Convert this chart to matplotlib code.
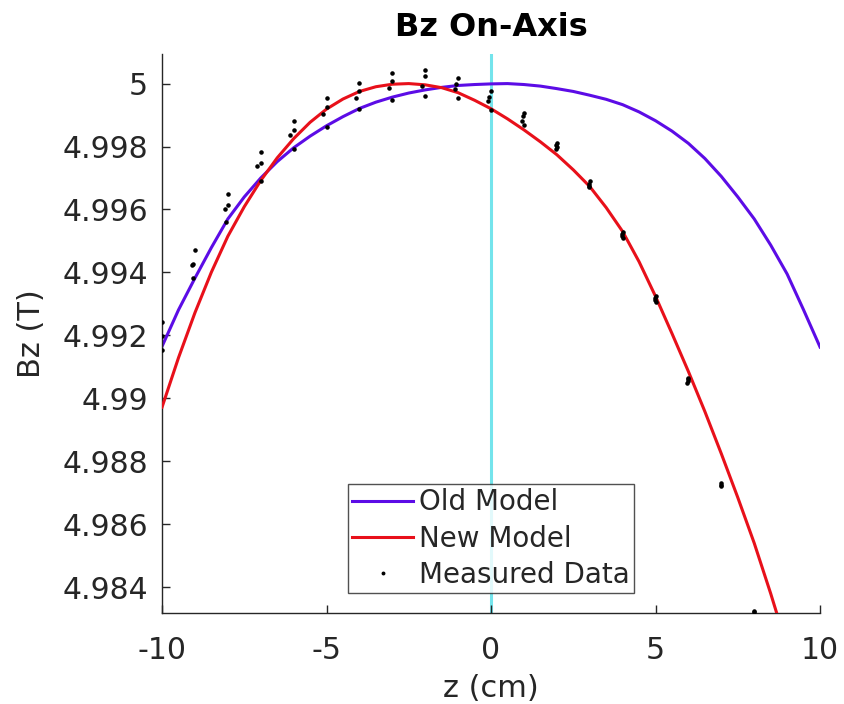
import numpy as np
import matplotlib.pyplot as plt

z_model = [-10, -9.5, -9, -8.5, -8, -7.5, -7, -6.5, -6, -5.5, -5, -4.5, -4, -3.5, -3,
           -2.5, -2, -1.5, -1, -0.5, 0, 0.5, 1, 1.5, 2, 2.5, 3, 3.5, 4, 4.5, 5,
           5.5, 6, 6.5, 7, 7.5, 8, 8.5, 9, 9.5, 10]
bz_old = [4.99165, 4.99281, 4.99382, 4.99479, 4.99570, 4.99640, 4.99700, 4.99752,
          4.99796, 4.99833, 4.99866, 4.99895, 4.99921, 4.99941, 4.99957, 4.99970,
          4.99980, 4.99988, 4.99994, 4.99997, 4.99999, 5.00000, 4.99997, 4.99992,
          4.99984, 4.99975, 4.99963, 4.99950, 4.99933, 4.99910, 4.99882, 4.99849,
          4.99810, 4.99762, 4.99705, 4.99640, 4.99570, 4.99487, 4.99395, 4.99281,
          4.99163]
bz_new = [4.98972, 4.99129, 4.99272, 4.99401, 4.99515, 4.99609, 4.99692, 4.99764,
          4.99825, 4.99877, 4.99919, 4.99951, 4.99975, 4.99990, 4.99998, 5.00000,
          4.99996, 4.99987, 4.99971, 4.99947, 4.99920, 4.99888, 4.99853, 4.99815,
          4.99774, 4.99726, 4.99673, 4.99606, 4.99530, 4.99434, 4.99324, 4.99206,
          4.99085, 4.98958, 4.98824, 4.98685, 4.98540, 4.98380, 4.98210, 4.98030,
          4.97850]

# measured points (several passes at each z position)
z_meas = [-10.0, -10.0, -10.0,
          -9.0, -9.05, -9.1, -9.05,
          -8.0, -8.0, -8.1, -8.05,
          -7.0, -7.0, -7.1, -7.0,
          -6.0, -6.0, -6.1, -6.0,
          -5.0, -5.0, -5.1, -5.0,
          -4.0, -4.0, -4.1, -4.0,
          -3.0, -3.0, -3.1, -3.0,
          -2.0, -2.0, -2.1, -2.0,
          -1.0, -1.05, -1.1, -1.0,
          0.0, -0.05, -0.1, 0.0,
          1.0, 0.98, 0.93, 1.0,
          2.0, 1.97, 1.99, 1.96,
          3.0, 2.98, 2.97, 2.99,
          4.0, 3.99, 3.98, 4.0,
          5.0, 4.99, 4.98, 5.0,
          6.0, 5.99, 5.98, 5.97,
          7.0, 6.99, 6.98,
          8.0, 8.0, 8.0]
bz_meas = [4.99243, 4.99199, 4.99155,
           4.99470, 4.99427, 4.99424, 4.99382,
           4.99649, 4.99615, 4.99603, 4.99560,
           4.99782, 4.99747, 4.99737, 4.99691,
           4.99882, 4.99851, 4.99837, 4.99793,
           4.99954, 4.99925, 4.99903, 4.99862,
           5.00003, 4.99978, 4.99955, 4.99919,
           5.00035, 5.00009, 4.99987, 4.99948,
           5.00043, 5.00024, 4.99993, 4.99961,
           5.00018, 4.99998, 4.99982, 4.99954,
           4.99975, 4.99957, 4.99945, 4.99917,
           4.99908, 4.99897, 4.99882, 4.99867,
           4.99812, 4.99805, 4.99798, 4.99792,
           4.99689, 4.99682, 4.99676, 4.99670,
           4.99530, 4.99523, 4.99516, 4.99509,
           4.99324, 4.99318, 4.99311, 4.99305,
           4.99065, 4.99060, 4.99054, 4.99049,
           4.98731, 4.98726, 4.98721,
           4.98325, 4.98320, 4.98308]

x_ticks = [-10, -5, 0, 5, 10]
y_ticks = [4.984, 4.986, 4.988, 4.99, 4.992, 4.994, 4.996, 4.998, 5]
y_tick_labels = ['4.984', '4.986', '4.988', '4.99', '4.992', '4.994', '4.996', '4.998', '5']

TXT = '#262626'
plt.rcParams['font.family'] = ['DejaVu Sans']

fig = plt.figure(figsize=(8.44, 7.04), dpi=100)
ax = fig.add_axes([0.192, 0.1288, 0.7796, 0.7945])

ax.axvline(0, color='#74e4ec', lw=2.2, zorder=1)
l_old, = ax.plot(z_model, bz_old, color='#5c0ce6', lw=2.2, label='Old Model', zorder=2)
l_new, = ax.plot(z_model, bz_new, color='#e8101a', lw=2.2, label='New Model', zorder=3)
l_meas, = ax.plot(z_meas, bz_meas, '.', color='black', ms=4.5, label='Measured Data', zorder=4)

ax.set_xlim(-10, 10)
ax.set_ylim(4.98317, 5.00094)
ax.set_xticks(x_ticks)
ax.set_xticklabels([str(t) for t in x_ticks])
ax.set_yticks(y_ticks)
ax.set_yticklabels(y_tick_labels)

for side in ['top', 'right']:
    ax.spines[side].set_visible(False)
for side in ['left', 'bottom']:
    ax.spines[side].set_color(TXT)
    ax.spines[side].set_linewidth(1.0)

ax.tick_params(direction='in', length=6, width=1, colors=TXT, labelsize=21.5)
ax.tick_params(axis='y', pad=10)
ax.tick_params(axis='x', pad=16)

ax.set_xlabel('z (cm)', fontsize=22, color=TXT, labelpad=7)
ax.set_ylabel('Bz (T)', fontsize=22, color=TXT, labelpad=12)
ax.set_title('Bz On-Axis', fontsize=23, fontweight='bold', color='black', pad=13)

leg = ax.legend(handles=[l_old, l_new, l_meas], loc='lower center',
                bbox_to_anchor=(0.5, 0.036), fontsize=20, frameon=True, fancybox=False,
                handlelength=2.2, handletextpad=0.2, borderpad=0.15, labelspacing=0.3,
                borderaxespad=0, markerscale=0.8)
leg.get_frame().set_edgecolor(TXT)
leg.get_frame().set_linewidth(1.0)
for t in leg.get_texts():
    t.set_color(TXT)

fig.savefig('out.png', dpi=100)
